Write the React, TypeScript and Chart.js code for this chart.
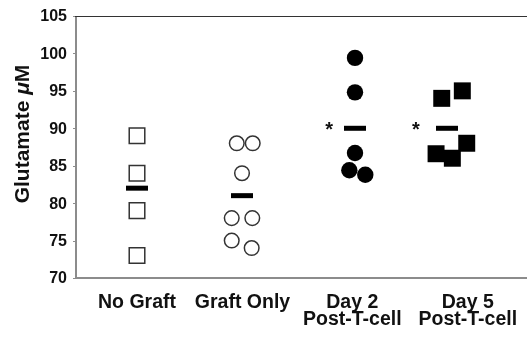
import React, { useEffect, useRef } from "react";
import { Chart, registerables } from "chart.js";

Chart.register(...registerables);

// ---- data ----
const categories: string[][] = [["No Graft"], ["Graft Only"], ["Day 2", "Post-T-cell"], ["Day 5", "Post-T-cell"]];
const categoryX = [1, 2.005, 3.05, 4.15];
const yTicks = [70, 75, 80, 85, 90, 95, 100, 105];

const noGraftX = [1, 1, 1, 1];
const noGraftY = [89, 84, 79, 73];
const graftOnlyX = [1.95, 2.102, 2.0, 1.902, 2.098, 1.902, 2.092];
const graftOnlyY = [88, 88, 84, 78, 78, 75, 74];
const day2X = [3.076, 3.076, 3.076, 3.022, 3.174];
const day2Y = [99.4, 94.8, 86.7, 84.4, 83.8];
const day5X = [3.902, 4.098, 4.14, 3.848, 4.003];
const day5Y = [94, 95, 88, 86.6, 86];
const meanX = [1, 2, 3.076, 3.952];
const meanY = [82, 81, 90, 90];
const starX = [2.829, 3.657];
const starY = [90, 90];

const FONT = '"Liberation Sans", Arial, Helvetica, sans-serif';
const W = 527;
const H = 337;

const pts = (xs: number[], ys: number[]) => xs.map((x, i) => ({ x, y: ys[i] }));

const framePlugin = {
  id: "frame",
  beforeDatasetsDraw(chart: any) {
    const { ctx, chartArea: a, scales } = chart;
    const y = scales.y;
    ctx.save();
    ctx.strokeStyle = "#8c8c8c";
    ctx.lineWidth = 1;
    yTicks.forEach((v) => {
      const py = Math.round(y.getPixelForValue(v)) + 0.5;
      ctx.beginPath();
      ctx.moveTo(a.left - 3, py);
      ctx.lineTo(a.left, py);
      ctx.stroke();
    });
    ctx.lineWidth = 2;
    ctx.beginPath();
    ctx.moveTo(a.left, a.top);
    ctx.lineTo(a.left, a.bottom);
    ctx.lineTo(a.right, a.bottom);
    ctx.stroke();
    ctx.lineWidth = 1.2;
    ctx.strokeStyle = "#333";
    ctx.beginPath();
    ctx.moveTo(a.left - 1, a.top + 0.5);
    ctx.lineTo(a.right, a.top + 0.5);
    ctx.stroke();
    ctx.restore();
  },
  afterDraw(chart: any) {
    const { ctx, chartArea: a, scales } = chart;
    const x = scales.x;
    const y = scales.y;
    ctx.save();
    ctx.fillStyle = "#111";
    // y tick labels
    ctx.font = `bold 16px ${FONT}`;
    ctx.textAlign = "right";
    ctx.textBaseline = "middle";
    yTicks.forEach((v) => {
      ctx.fillText(String(v), a.left - 9, y.getPixelForValue(v) + 1);
    });
    // x category labels
    ctx.font = `bold 19.5px ${FONT}`;
    ctx.textAlign = "center";
    ctx.textBaseline = "alphabetic";
    categories.forEach((lines, i) => {
      const px = x.getPixelForValue(categoryX[i]);
      lines.forEach((t, j) => {
        ctx.fillText(t, px, a.bottom + 30 + j * 17);
      });
    });
    // asterisks
    ctx.font = `bold 20px ${FONT}`;
    starX.forEach((sx, i) => {
      ctx.fillText("*", x.getPixelForValue(sx), y.getPixelForValue(starY[i]) + 8);
    });
    // y title
    const p1 = "Glutamate ";
    const p2 = "\u03BC";
    const p3 = "M";
    const fb = `bold 21px ${FONT}`;
    const fi = `italic bold 21px ${FONT}`;
    ctx.font = fb;
    const w1 = ctx.measureText(p1).width;
    const w3 = ctx.measureText(p3).width;
    ctx.font = fi;
    const w2 = ctx.measureText(p2).width;
    const total = w1 + w2 + w3;
    ctx.translate(23, 134);
    ctx.rotate(-Math.PI / 2);
    ctx.textAlign = "left";
    ctx.textBaseline = "middle";
    let cx = -total / 2;
    ctx.font = fb;
    ctx.fillText(p1, cx, 0);
    cx += w1;
    ctx.font = fi;
    ctx.fillText(p2, cx, 0);
    cx += w2;
    ctx.font = fb;
    ctx.fillText(p3, cx, 0);
    ctx.restore();
  },
};

export default function App() {
  const ref = useRef<HTMLCanvasElement | null>(null);
  useEffect(() => {
    document.body.style.margin = "0";
    document.body.style.overflow = "hidden";
    const canvas = ref.current;
    if (!canvas) return;
    const chart = new Chart(canvas, {
      type: "scatter",
      data: {
        datasets: [
          {
            label: "No Graft",
            data: pts(noGraftX, noGraftY),
            pointStyle: "rect",
            pointRadius: 11,
            backgroundColor: "#ffffff",
            borderColor: "#333333",
            borderWidth: 1.5,
          },
          {
            label: "Graft Only",
            data: pts(graftOnlyX, graftOnlyY),
            pointStyle: "circle",
            pointRadius: 7.3,
            backgroundColor: "#ffffff",
            borderColor: "#333333",
            borderWidth: 1.5,
          },
          {
            label: "Day 2",
            data: pts(day2X, day2Y),
            pointStyle: "circle",
            pointRadius: 8.2,
            backgroundColor: "#000000",
            borderColor: "#000000",
            borderWidth: 0,
          },
          {
            label: "Day 5",
            data: pts(day5X, day5Y),
            pointStyle: "rect",
            pointRadius: 12,
            backgroundColor: "#000000",
            borderColor: "#000000",
            borderWidth: 0,
          },
          {
            label: "Mean",
            data: pts(meanX, meanY),
            pointStyle: "line",
            pointRadius: 11,
            backgroundColor: "#000000",
            borderColor: "#000000",
            borderWidth: 5,
          },
        ],
      },
      options: {
        responsive: false,
        devicePixelRatio: 1,
        animation: false,
        events: [],
        layout: { autoPadding: false, padding: { left: 76, top: 16, right: 0, bottom: 59 } },
        scales: {
          x: { type: "linear", display: false, min: 0.419, max: 4.714 },
          y: { type: "linear", display: false, min: 70, max: 105 },
        },
        plugins: { legend: { display: false }, tooltip: { enabled: false } },
      },
      plugins: [framePlugin],
    });
    return () => chart.destroy();
  }, []);
  return (
    <div style={{ width: W + "px", height: H + "px", background: "#fff", overflow: "hidden" }}>
      <canvas ref={ref} width={W} height={H} style={{ display: "block", width: W + "px", height: H + "px" }} />
    </div>
  );
}
